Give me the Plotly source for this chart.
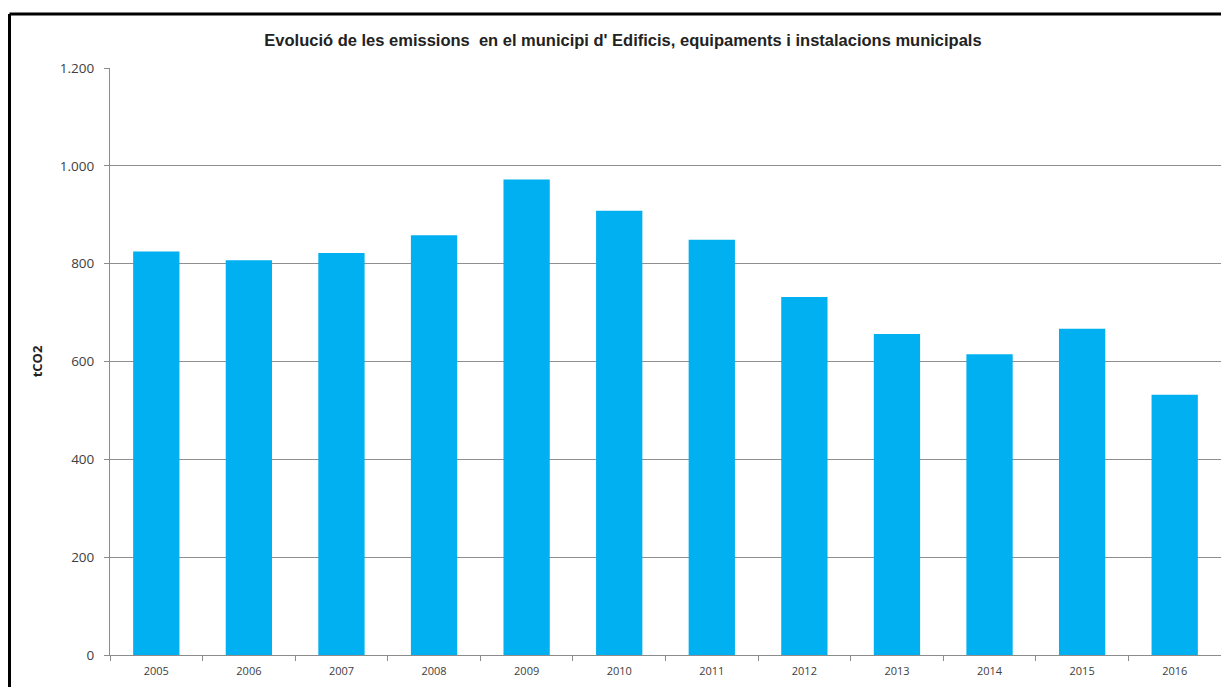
import plotly.graph_objects as go

years = ["2005", "2006", "2007", "2008", "2009", "2010", "2011", "2012", "2013", "2014", "2015", "2016"]
emissions = [825, 807, 822, 858, 972, 908, 849, 732, 656, 615, 667, 532]
y_ticks = [0, 200, 400, 600, 800, 1000, 1200]

title_text = "Evolució de les emissions  en el municipi d' Edificis, equipaments i instalacions municipals"
y_title = "tCO2"

# page body has an 8px margin, so figure coordinates = reference pixels - 8
OFF = 8
W, H = 1229 - OFF, 687 - OFF
L, R, T, B = 110 - OFF, 8, 68 - OFF, 32
pw = W - L - R
ph = H - T - B

def px_x(px):
    return (px - OFF - L) / pw

def px_y(py):
    return (H - B - (py - OFF)) / ph

fig = go.Figure()
fig.add_trace(go.Bar(
    x=years, y=emissions,
    marker=dict(color="#00B0F0", line=dict(width=0)),
    width=0.5,
))

fig.update_layout(
    width=W, height=H,
    margin=dict(l=L, r=R, t=T, b=B),
    paper_bgcolor="white", plot_bgcolor="white",
    separators=",.",
    showlegend=False,
    font=dict(family="Open Sans, Liberation Sans, sans-serif", color="#404040"),
    title=dict(
        text="<b>" + title_text + "</b>",
        x=px_x(623), xref="paper", xanchor="center",
        y=1 - (40 - OFF) / H, yanchor="middle",
        font=dict(family="Liberation Sans, Arial, sans-serif", size=16.5, color="#222222"),
    ),
    xaxis=dict(
        type="category",
        showgrid=False,
        showline=True, linecolor="#8c8c8c", linewidth=1,
        ticks="outside", tickson="boundaries", ticklen=5, tickcolor="#8c8c8c",
        tickfont=dict(size=11, color="#404040"),
        ticklabelstandoff=6,
        fixedrange=True,
    ),
    yaxis=dict(
        range=[0, 1200],
        tickvals=y_ticks,
        tickformat=",d",
        showgrid=True, gridcolor="#8f8f8f", gridwidth=1,
        showline=True, linecolor="#8c8c8c", linewidth=1,
        ticks="outside", ticklen=5, tickcolor="#8c8c8c",
        tickfont=dict(size=13.5, color="#404040"),
        ticklabelstandoff=7,
        zeroline=False,
        title=dict(text="<b>" + y_title + "</b>", font=dict(size=13, color="#222222"), standoff=14),
        fixedrange=True,
    ),
    shapes=[
        dict(type="line", xref="paper", yref="paper",
             x0=px_x(9.5), x1=px_x(1240), y0=px_y(14), y1=px_y(14),
             line=dict(color="black", width=3)),
        dict(type="line", xref="paper", yref="paper",
             x0=px_x(9.5), x1=px_x(9.5), y0=px_y(14), y1=px_y(700),
             line=dict(color="black", width=3)),
    ],
)

fig.write_html("out.html")
